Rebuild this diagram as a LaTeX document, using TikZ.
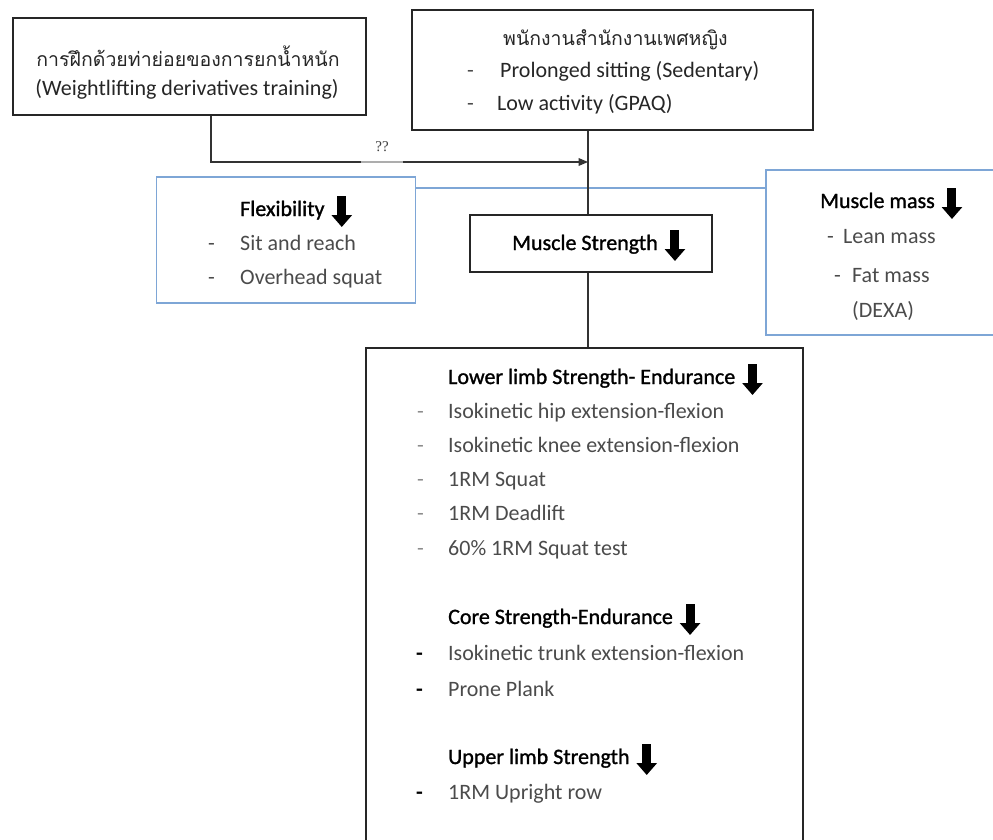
\documentclass[tikz,border=0pt]{standalone}
\usepackage{fontspec}
\setmainfont{Carlito}
\newfontfamily\hdfont[FakeBold=1.2]{Carlito}
\newfontfamily\thaifont[Script=Thai]{Loma}
\newfontfamily\qfont{Liberation Serif}
\usetikzlibrary{arrows}
\usetikzlibrary{arrows.meta}
\usetikzlibrary{positioning}
\definecolor{boxblue}{RGB}{126,166,214}
\definecolor{itemgray}{RGB}{75,75,75}
\tikzset{
  blk/.style={draw=black!85,line width=1.4pt,inner sep=0pt},
  blu/.style={draw=boxblue,line width=1.3pt,inner sep=0pt},
  tx/.style={anchor=base west,inner sep=0pt,font=\fontsize{22}{26}\selectfont,text=black},
  hd/.style={tx,font=\hdfont\fontsize{22}{26}\selectfont},
  it/.style={tx,text=itemgray},
  th/.style={tx,font=\thaifont\fontsize{19.5}{24}\selectfont,text=black!85},
  dn/.style={line width=9pt,-{Triangle[length=12pt,width=20pt]}},
}
\newcommand{\downmark}[1]{\draw[dn] ([xshift=17pt,yshift=20pt]#1.base east) -- ++(0,31);}

\begin{document}
\begin{tikzpicture}[line cap=butt,>=triangle 45,x=1pt,y=-1pt]
\useasboundingbox (0,0) rectangle (993,840);
\clip (0,0) rectangle (993,840);
% boxes
\node[blk,minimum width=353,minimum height=97] (train) at (189.5,66.5) {};
\node[blk,minimum width=401,minimum height=120] (office) at (612.5,70) {};
\node[blu,minimum width=259,minimum height=126] (flex) at (286,240) {};
\node[blk,minimum width=242,minimum height=57] (strength) at (591,243.5) {};
\node[blu,minimum width=244,minimum height=165] (mass) at (888,252.5) {};
\node[blk,minimum width=437,minimum height=532] (tests) at (584.5,614) {};
% connectors
\coordinate (spine) at (588,0);
\coordinate (drop) at (211,162);
\coordinate (bar) at (0,188);
\draw[blu] (flex.east |- bar) -- (mass.west |- bar);
\draw[black!80,line width=1.2pt] (spine |- office.south) -- (spine |- strength.north);
\draw[black!80,line width=1.2pt] (spine |- strength.south) -- (spine |- tests.north);
\draw[->,black!80,line width=1.2pt] (drop |- train.south) -- (drop) -- (spine |- drop);
\node[anchor=base,fill=white,fill opacity=0.6,text opacity=1,inner xsep=14pt,inner ysep=0pt,text depth=12pt,font=\qfont\fontsize{15}{15}\selectfont,text=black!75] (q) at (382,152) {??};
% training
\node[th,anchor=base] (tr1) at (188,67) {การฝึกด้วยท่าย่อยของการยกน้ำหนัก};
\node[tx,anchor=base,text=black!85] (tr2) at (187,96) {(Weightlifting derivatives training)};
% office workers
\node[th] (of1) at (503,46) {พนักงานสำนักงานเพศหญิง};
\node[it] (od1) at (467,78) {-};
\node[tx,text=black!85] (of2) at (500,78) {Prolonged sitting (Sedentary)};
\node[it] (od2) at (467,111) {-};
\node[tx,text=black!85] (of3) at (497,111) {Low activity (GPAQ)};
% flexibility
\node[hd] (fx) at (240,216) {Flexibility};
\downmark{fx}
\node[it] (fd1) at (208,250) {-};
\node[it] (fx1) at (240,250) {Sit and reach};
\node[it] (fd2) at (208,284) {-};
\node[it] (fx2) at (240,284) {Overhead squat};
% muscle strength
\node[hd] (ms) at (512,250) {Muscle Strength};
\downmark{ms}
% muscle mass
\node[hd] (mm) at (820,208) {Muscle mass};
\downmark{mm}
\node[it] (md1) at (827,243) {-};
\node[it] (mm1) at (843,243) {Lean mass};
\node[it] (md2) at (834,282) {-};
\node[it] (mm2) at (852,282) {Fat mass};
\node[it] (mm3) at (852,317) {(DEXA)};
% tests
\node[hd] (lo) at (448,384) {Lower limb Strength- Endurance};
\downmark{lo}
\foreach \t [count=\i] in {Isokinetic hip extension-flexion,Isokinetic knee extension-flexion,1RM Squat,1RM Deadlift,60\% 1RM Squat test}{
  \node[it,text=black!45] (ld\i) at (417,{418+34.25*(\i-1)}) {-};
  \node[it] (lo\i) at (448,{418+34.25*(\i-1)}) {\t};
}
\node[hd] (co) at (448,624) {Core Strength-Endurance};
\downmark{co}
\node[tx] (cd1) at (416,660) {\textbf{-}};
\node[it] (co1) at (448,660) {Isokinetic trunk extension-flexion};
\node[tx] (cd2) at (416,696) {\textbf{-}};
\node[it] (co2) at (448,696) {Prone Plank};
\node[hd] (up) at (448,764) {Upper limb Strength};
\downmark{up}
\node[tx] (ud1) at (416,799) {\textbf{-}};
\node[it] (up1) at (448,799) {1RM Upright row};
\end{tikzpicture}
\end{document}
